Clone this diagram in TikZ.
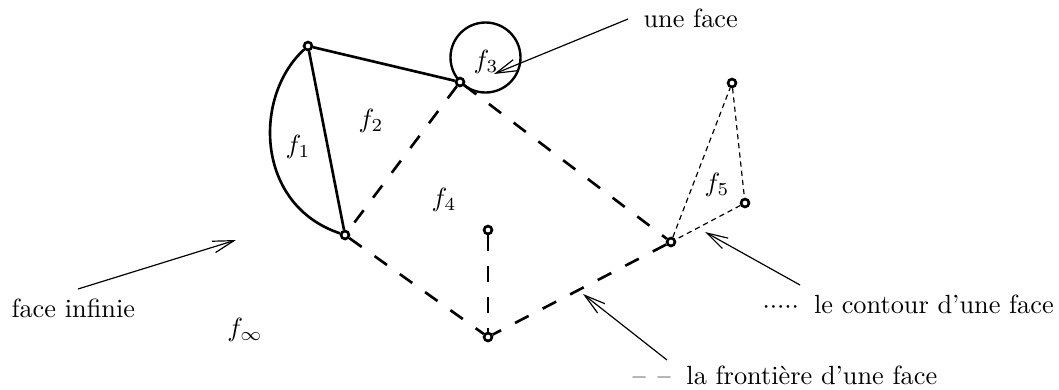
\documentclass[tikz,border=0pt]{standalone}
\usepackage{fontspec}
\usetikzlibrary{arrows.meta}
\pgfdeclarelayer{background}
\pgfsetlayers{background,main}
\begin{document}
\begin{tikzpicture}[x=0.3802pt,y=-0.3802pt,
  vtx/.style={circle,draw,fill=white,line width=1pt,inner sep=0pt,minimum size=3pt},
  solidedge/.style={line width=1pt},
  boundary/.style={line width=1pt,dash pattern=on 5.8pt off 6pt},
  contour/.style={line width=0.45pt,dash pattern=on 2pt off 1.5pt},
  pointer/.style={line width=0.45pt,-{Straight Barb[length=8pt,width=4.5pt]}},
  flab/.style={inner sep=0pt},
  txt/.style={inner sep=0pt,anchor=base west}
]
\useasboundingbox (0,0) rectangle (1059,389);

% vertices
\node[vtx] (A) at (308,46) {};
\node[vtx] (B) at (460,82) {};
\node[vtx] (C) at (345,235) {};
\node[vtx] (D) at (488,337) {};
\node[vtx] (E) at (488,230) {};
\node[vtx] (F) at (671,242) {};
\node[vtx] (G) at (732,83) {};
\node[vtx] (H) at (745,203) {};

% loop face f3
\coordinate (c3) at (485.5,57.5);
\begin{pgfonlayer}{background}
\draw[line width=0.9pt] (c3) circle[radius=35];
\end{pgfonlayer}

% solid edges
\draw[solidedge] (A) -- (B);
\draw[solidedge] (A) -- (C);
\draw[solidedge] (A) .. controls +(-55,50) and +(-90,-30) .. (C);

% boundary (dashed) edges
\draw[boundary] (B) -- (C);
\draw[boundary] (B) -- (F);
\draw[boundary] (C) -- (D);
\draw[boundary] (F) -- (D);
\draw[boundary] (E) -- (D);

% contour (dotted) edges
\draw[contour] (F) -- (G);
\draw[contour] (G) -- (H);
\draw[contour] (H) -- (F);

% face labels
\node[flab] (f1) at (298,147) {$f_1$};
\node[flab] (f2) at (371,121) {$f_2$};
\node[flab] (f3) at (486,62) {$f_3$};
\node[flab] (f4) at (444,200) {$f_4$};
\node[flab] (f5) at (717,185) {$f_5$};
\node[flab] (finf) at (245,330) {$f_\infty$};

% texts
\node[txt] (tface) at (643,27) {une face};
\node[txt] (tinf) at (11,317) {face infinie};
\node[txt] (tcont) at (762,313) {${\cdotp}{\cdotp}{\cdotp}{\cdotp}{\cdotp}$\hspace{5.7pt}le contour d’une face};
\node[txt] (tfront) at (632,384) {–\hspace{4.5pt}–\hspace{6pt}la frontière d’une face};

% pointers
\coordinate (p1s) at (628,19);  \coordinate (p1e) at (494,74);
\coordinate (p2s) at (78,289);  \coordinate (p2e) at (236,240);
\coordinate (p3s) at (800,285); \coordinate (p3e) at (705,232);
\coordinate (p4s) at (667,360); \coordinate (p4e) at (583,294);
\draw[pointer] (p1s) -- (p1e);
\draw[pointer] (p2s) -- (p2e);
\draw[pointer] (p3s) -- (p3e);
\draw[pointer] (p4s) -- (p4e);
\end{tikzpicture}
\end{document}
